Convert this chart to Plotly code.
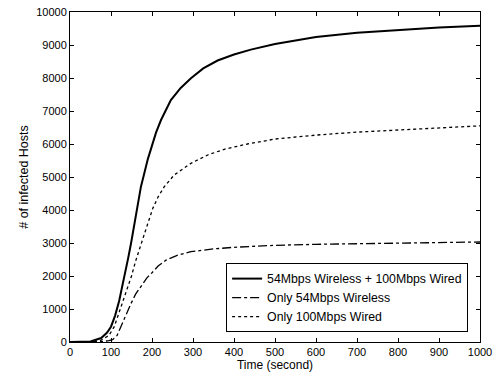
import plotly.graph_objects as go

# Combined: 54Mbps Wireless + 100Mbps Wired
t_both = [0, 25, 50, 76, 90, 100, 110, 120, 128, 135, 142, 149, 157, 165, 173, 180, 190, 200, 210,
          222, 234, 246, 270, 295, 325, 360, 400, 441, 500, 600, 700, 800, 900, 1000]
v_both = [0, 3, 15, 120, 280, 464, 800, 1250, 1700, 2100, 2550, 3000, 3600, 4200, 4707, 5050, 5550,
          5950, 6350, 6727, 7050, 7333, 7700, 7990, 8290, 8530, 8710, 8860, 9030, 9240, 9370, 9460,
          9530, 9580]

# Only 54Mbps Wireless
t_wl = [0, 50, 75, 95, 104, 115, 124, 136, 149, 160, 175, 188, 200, 215, 234, 260, 295, 350, 400,
        450, 500, 600, 700, 800, 900, 1000]
v_wl = [0, 5, 15, 40, 70, 200, 464, 800, 1170, 1450, 1720, 1950, 2100, 2300, 2480, 2620, 2736, 2820,
        2870, 2900, 2930, 2960, 2980, 3000, 3020, 3030]

# Only 100Mbps Wired
t_wd = [0, 50, 75, 95, 108, 120, 130, 140, 150, 160, 175, 190, 202, 215, 230, 254, 295, 336, 376,
        433, 500, 600, 700, 800, 900, 1000]
v_wd = [0, 10, 50, 200, 464, 900, 1300, 1650, 2000, 2450, 3050, 3600, 4050, 4400, 4707, 5060, 5415,
        5667, 5840, 6000, 6150, 6270, 6360, 6430, 6500, 6550]

names = ["54Mbps Wireless + 100Mbps Wired", "Only 54Mbps Wireless", "Only 100Mbps Wired"]
x_ticks = list(range(0, 1001, 100))
y_ticks = list(range(0, 10001, 1000))

FONT = "Liberation Sans, Arial"

fig = go.Figure()
fig.add_trace(go.Scatter(x=t_both, y=v_both, mode="lines", name=names[0],
                         line=dict(color="black", width=2)))
fig.add_trace(go.Scatter(x=t_wl, y=v_wl, mode="lines", name=names[1],
                         line=dict(color="black", width=1.3, dash="dashdot")))
fig.add_trace(go.Scatter(x=t_wd, y=v_wd, mode="lines", name=names[2],
                         line=dict(color="black", width=1.3, dash="dot")))

axis_common = dict(showgrid=False, zeroline=False, showline=True, linecolor="black", linewidth=1,
                   mirror="ticks", ticks="inside", ticklen=4, tickcolor="black", automargin=False,
                   tickfont=dict(family=FONT, size=11, color="black"))

fig.update_layout(
    width=498, height=376,
    margin=dict(l=70, r=18, t=12, b=34),
    paper_bgcolor="white", plot_bgcolor="white",
    font=dict(family=FONT, size=12, color="black"),
    xaxis=dict(range=[0, 1000], tickvals=x_ticks, ticktext=[str(v) for v in x_ticks],
               title=dict(text="Time (second)", standoff=0, font=dict(size=12)), **axis_common),
    yaxis=dict(range=[0, 10000], tickvals=y_ticks, ticktext=[str(v) for v in y_ticks],
               title=dict(text="# of infected Hosts", standoff=4, font=dict(size=12.5)), **axis_common),
    legend=dict(x=0.971, y=0.03, xanchor="right", yanchor="bottom", bgcolor="white",
                bordercolor="black", borderwidth=1, font=dict(size=12.3), itemwidth=30,
                tracegroupgap=0),
    showlegend=True,
)

fig.write_html("out.html", config={"displayModeBar": False},
               post_script="document.body.style.margin='0';")
